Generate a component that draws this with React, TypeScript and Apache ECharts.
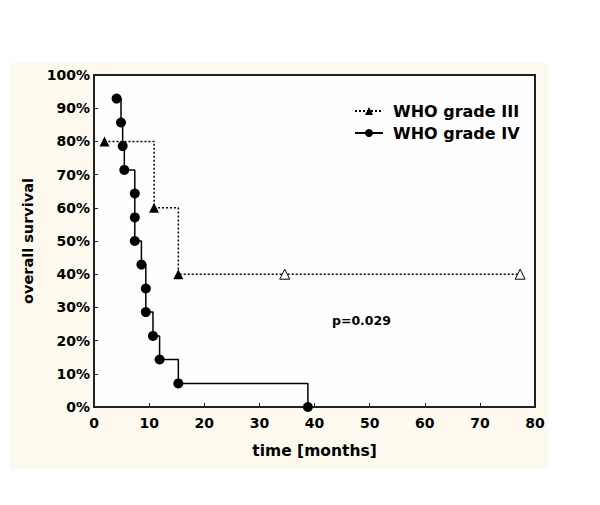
import React, { useEffect, useRef } from "react";
import * as echarts from "echarts";

const seriesNames = ["WHO grade III", "WHO grade IV"];
// WHO grade III (months, % survival); last two are censored (open triangles)
const timeIII = [1.9, 10.9, 15.3, 34.6, 77.3];
const survIII = [80, 60, 40, 40, 40];
const censoredIII = [false, false, false, true, true];
// WHO grade IV
const timeIV = [4.1, 4.9, 5.2, 5.5, 7.4, 7.4, 7.4, 8.6, 9.4, 9.4, 10.7, 11.9, 15.3, 38.8];
const survIV = [92.9, 85.7, 78.6, 71.4, 64.3, 57.1, 50.0, 42.9, 35.7, 28.6, 21.4, 14.3, 7.1, 0];
const xTicks = { min: 0, max: 80, interval: 10 };
const yTicks = { min: 0, max: 100, interval: 10 };
const axisNames = { x: "time [months]", y: "overall survival" };
const pValueText = "p=0.029";

const FONT = "DejaVu Sans";

export default function App() {
  const ref = useRef<HTMLDivElement>(null);
  useEffect(() => {
    document.body.style.margin = "0";
    const chart = echarts.init(ref.current!, null, { renderer: "svg" });
    const dataIII = timeIII.map((t, i) =>
      censoredIII[i]
        ? { value: [t, survIII[i]], itemStyle: { color: "#ffffff", borderColor: "#000", borderWidth: 1 } }
        : { value: [t, survIII[i]] }
    );
    const dataIV = timeIV.map((t, i) => [t, survIV[i]]);
    chart.setOption({
      animation: false,
      backgroundColor: "#ffffff",
      textStyle: { fontFamily: FONT },
      graphic: [
        {
          type: "rect",
          z: -10,
          silent: true,
          shape: { x: 10, y: 63, width: 538, height: 406 },
          style: { fill: "#fdf9ee" },
        },
        {
          type: "text",
          x: 332,
          y: 320,
          style: {
            text: pValueText,
            fontFamily: FONT,
            fontWeight: "bold",
            fontSize: 12.5,
            fill: "#000",
            verticalAlign: "middle",
          },
        },
      ],
      grid: {
        left: 94,
        right: 65,
        top: 75,
        bottom: 98,
        show: true,
        backgroundColor: "#fefefe",
        borderColor: "#222",
        borderWidth: 2,
      },
      legend: {
        orient: "vertical",
        left: 349,
        top: 98,
        itemWidth: 28,
        itemHeight: 10,
        itemGap: 6,
        data: seriesNames,
        textStyle: {
          fontFamily: FONT,
          fontWeight: "bold",
          fontSize: 16,
          color: "#000",
          padding: [0, 0, 0, 5],
        },
      },
      xAxis: {
        type: "value",
        min: xTicks.min,
        max: xTicks.max,
        interval: xTicks.interval,
        name: axisNames.x,
        nameLocation: "middle",
        nameGap: 36,
        nameTextStyle: { fontFamily: FONT, fontWeight: "bold", fontSize: 15.5, color: "#000" },
        axisLine: { show: false },
        axisTick: { show: true, inside: true, length: 4, lineStyle: { color: "#222" } },
        splitLine: { show: false },
        axisLabel: { margin: 9, fontFamily: FONT, fontWeight: "bold", fontSize: 14, color: "#000" },
      },
      yAxis: {
        type: "value",
        min: yTicks.min,
        max: yTicks.max,
        interval: yTicks.interval,
        name: axisNames.y,
        nameLocation: "middle",
        nameGap: 58,
        nameTextStyle: { fontFamily: FONT, fontWeight: "bold", fontSize: 14.5, color: "#000" },
        axisLine: { show: false },
        axisTick: { show: true, inside: true, length: 4, lineStyle: { color: "#222" } },
        splitLine: { show: false },
        axisLabel: {
          margin: 4,
          formatter: "{value}%",
          fontFamily: FONT,
          fontWeight: "bold",
          fontSize: 14,
          color: "#000",
        },
      },
      series: [
        {
          name: seriesNames[0],
          type: "line",
          step: "end",
          data: dataIII,
          symbol: "triangle",
          symbolSize: 10,
          showAllSymbol: true,
          z: 2,
          itemStyle: { color: "#000" },
          lineStyle: { color: "#000", width: 1.5, type: [2, 2] },
        },
        {
          name: seriesNames[1],
          type: "line",
          step: "end",
          data: dataIV,
          symbol: "circle",
          symbolSize: 10,
          showAllSymbol: true,
          z: 3,
          itemStyle: { color: "#000" },
          lineStyle: { color: "#000", width: 1.5 },
        },
      ],
    });
    return () => chart.dispose();
  }, []);
  return <div ref={ref} style={{ width: 600, height: 505 }} />;
}
